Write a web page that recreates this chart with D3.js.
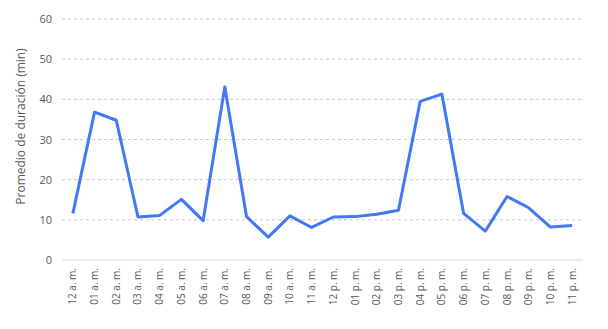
<!DOCTYPE html>
<html>
<head>
<meta charset="utf-8">
<script src="https://cdn.jsdelivr.net/npm/d3@7"></script>
<style>
  body { margin: 0; background: #fff; }
  text { font-family: "Open Sans", sans-serif; fill: #595959; }
</style>
</head>
<body>
<div id="chart"></div>
<script>
// Promedio de duración por hora del día

var width = 608;
var height = 329;
var margin = { top: 19, right: 25, bottom: 69, left: 62 };

// data
var horas = ["12 a. m.", "01 a. m.", "02 a. m.", "03 a. m.", "04 a. m.", "05 a. m.",
             "06 a. m.", "07 a. m.", "08 a. m.", "09 a. m.", "10 a. m.", "11 a. m.",
             "12 p. m.", "01 p. m.", "02 p. m.", "03 p. m.", "04 p. m.", "05 p. m.",
             "06 p. m.", "07 p. m.", "08 p. m.", "09 p. m.", "10 p. m.", "11 p. m."];
var duracion = [11.6, 36.8, 34.8, 10.7, 11.1, 15.1, 9.8, 43.1, 10.8, 5.7, 11.0, 8.1,
                10.7, 10.8, 11.4, 12.4, 39.5, 41.3, 11.6, 7.2, 15.8, 13.0, 8.2, 8.6];
var yTicks = [0, 10, 20, 30, 40, 50, 60];
var yTitulo = "Promedio de duración (min)";

var svg = d3.select("#chart")
    .append("svg")
    .attr("width", width)
    .attr("height", height);

var g = svg.append("g")
    .attr("transform", "translate(" + margin.left + "," + margin.top + ")");

var w = width - margin.left - margin.right;
var h = height - margin.top - margin.bottom;

var x = d3.scaleBand()
    .domain(horas)
    .range([0, w]);

var y = d3.scaleLinear()
    .domain([0, 60])
    .range([h, 0]);

// gridlines
g.selectAll(".grid")
    .data(yTicks.filter(function(d) { return d > 0; }))
    .enter()
    .append("line")
    .attr("class", "grid")
    .attr("x1", 0)
    .attr("x2", w)
    .attr("y1", function(d) { return y(d); })
    .attr("y2", function(d) { return y(d); })
    .attr("stroke", "#c8c8c8")
    .attr("stroke-dasharray", "3,3");

// base line
g.append("line")
    .attr("x1", 0)
    .attr("x2", w)
    .attr("y1", y(0))
    .attr("y2", y(0))
    .attr("stroke", "#d9d9d9");

// y axis
var yAxis = g.append("g")
    .call(d3.axisLeft(y).tickValues(yTicks).tickSize(0).tickPadding(10));
yAxis.select(".domain").remove();
yAxis.selectAll("text")
    .style("font-size", "11px")
    .attr("fill", "#595959");

// x axis
var xAxis = g.append("g")
    .attr("transform", "translate(0," + h + ")")
    .call(d3.axisBottom(x).tickSize(0));
xAxis.select(".domain").remove();
xAxis.selectAll("text")
    .style("font-size", "10px")
    .attr("fill", "#595959")
    .attr("transform", "rotate(-90)")
    .attr("text-anchor", "end")
    .attr("x", -8)
    .attr("y", 0)
    .attr("dy", "0.35em");

// line
var line = d3.line()
    .x(function(d, i) { return x(horas[i]) + x.bandwidth() / 2; })
    .y(function(d) { return y(d); });

g.append("path")
    .datum(duracion)
    .attr("fill", "none")
    .attr("stroke", "#4178f4")
    .attr("stroke-width", 3)
    .attr("stroke-linejoin", "round")
    .attr("d", line);

// y title
svg.append("text")
    .attr("transform", "translate(25," + (margin.top + h / 2 - 13) + ") rotate(-90)")
    .attr("text-anchor", "middle")
    .style("font-size", "12px")
    .text(yTitulo);
</script>
</body>
</html>
